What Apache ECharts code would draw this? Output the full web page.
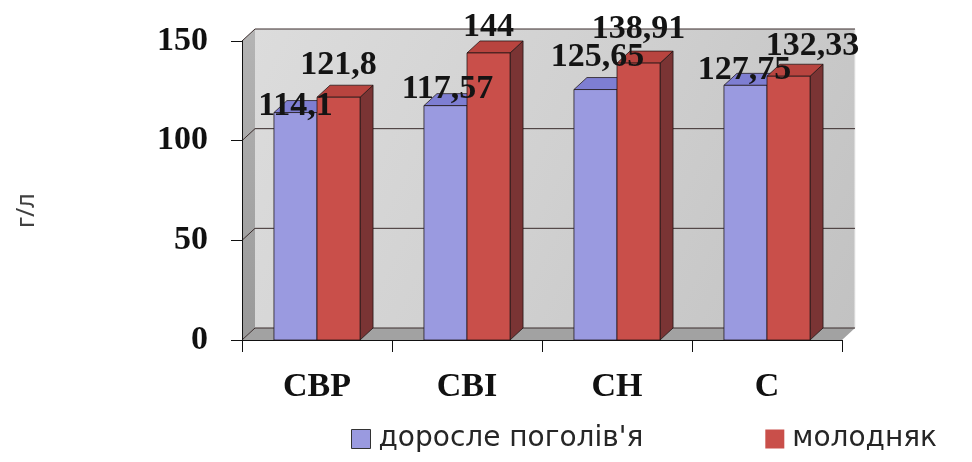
<!DOCTYPE html>
<html>
<head>
<meta charset="utf-8">
<script src="https://cdn.jsdelivr.net/npm/echarts@6/dist/echarts.min.js"></script>
<style>
html,body{margin:0;padding:0;background:#fff;}
#chart{width:972px;height:462px;}
</style>
</head>
<body>
<div id="chart"></div>
<script>
// ---- data ----
const categories = ['СВР', 'СВІ', 'СН', 'С'];
const adultValues = [114.1, 117.57, 125.65, 127.75];
const youngValues = [121.8, 144, 138.91, 132.33];
const yTicks = [0, 50, 100, 150];
const seriesNames = ["доросле поголів'я", 'молодняк'];

// ---- layout / style (not data) ----
const DEPTH = [13, -12];
const BAR_FRAC = 0.287;
const labelNudgeAdult = [[0, -6], [2, -16], [2, -32], [-1, -15]];
const labelNudgeYoung = [[0, -32], [0, -26], [0, -34], [24, -30]];
const LABEL_FONT = 'bold 34px "Liberation Serif", "Times New Roman", serif';

const chart = echarts.init(document.getElementById('chart'), null, {renderer: 'canvas'});

function fmt(v) { return String(v).replace('.', ','); }

function wallRender(params, api) {
  const catW = api.size([1, 0])[0];
  const n = categories.length;
  const x0 = api.coord([0, 0])[0] - catW / 2;
  const x1 = api.coord([n - 1, 0])[0] + catW / 2;
  const y0 = api.coord([0, yTicks[0]])[1];
  const yT = api.coord([0, yTicks[yTicks.length - 1]])[1];
  const dx = DEPTH[0], dy = DEPTH[1];
  const children = [];
  children.push({type: 'rect', shape: {x: x0 + dx, y: yT + dy, width: x1 - x0, height: y0 - yT},
    style: {fill: new echarts.graphic.LinearGradient(0, 0, 1, 1, [
      {offset: 0, color: '#dcdcdc'}, {offset: 0.5, color: '#d0d0d0'}, {offset: 1, color: '#c2c2c2'}]), stroke: null}});
  children.push({type: 'polygon', shape: {points: [[x0, yT], [x0 + dx, yT + dy], [x0 + dx, y0 + dy], [x0, y0]]},
    style: {fill: new echarts.graphic.LinearGradient(0, 0, 0, 1, [
      {offset: 0, color: '#b4b4b4'}, {offset: 1, color: '#999999'}])}});
  children.push({type: 'polygon', shape: {points: [[x0, y0], [x0 + dx, y0 + dy], [x1 + dx, y0 + dy], [x1, y0]]},
    style: {fill: '#a2a2a2'}});
  children.push({type: 'line', shape: {x1: x1 + dx, y1: yT + dy, x2: x1 + dx, y2: y0 + dy},
    style: {stroke: '#eeeeee', lineWidth: 1}});
  yTicks.forEach(function (t) {
    const y = api.coord([0, t])[1];
    children.push({type: 'polyline', shape: {points: [[x0, y], [x0 + dx, y + dy], [x1 + dx, y + dy]]},
      style: {stroke: '#3a2c2c', lineWidth: 1, fill: null}});
  });
  return {type: 'group', children: children};
}

function makeBarRender(seriesIdx, colors) {
  return function (params, api) {
    const idx = api.value(0);
    const val = api.value(1);
    const catW = api.size([1, 0])[0];
    const w = catW * BAR_FRAC;
    const base = api.coord([idx, 0]);
    const cx = base[0], y0 = base[1];
    const top = api.coord([idx, val])[1];
    const xl = seriesIdx === 0 ? cx - w : cx;
    const xr = xl + w;
    const dx = DEPTH[0], dy = DEPTH[1];
    const edge = {stroke: 'rgba(30,20,20,0.75)', lineWidth: 1};
    return {type: 'group', children: [
      {type: 'polygon', shape: {points: [[xr, top], [xr + dx, top + dy], [xr + dx, y0 + dy], [xr, y0]]},
        style: Object.assign({fill: colors.side}, edge)},
      {type: 'polygon', shape: {points: [[xl, top], [xl + dx, top + dy], [xr + dx, top + dy], [xr, top]]},
        style: Object.assign({fill: colors.top}, edge)},
      {type: 'rect', shape: {x: xl, y: top, width: w, height: y0 - top},
        style: Object.assign({fill: colors.front}, edge)}
    ]};
  };
}

function labelRender(params, api) {
  const idx = api.value(0);
  const s = api.value(1);
  const val = api.value(2);
  const catW = api.size([1, 0])[0];
  const w = catW * BAR_FRAC;
  const cx0 = api.coord([idx, 0])[0];
  const cx = s === 0 ? cx0 - w / 2 : cx0 + w / 2;
  const top = api.coord([idx, val])[1];
  const nudge = (s === 0 ? labelNudgeAdult : labelNudgeYoung)[idx];
  return {type: 'text', style: {text: fmt(val), x: cx + nudge[0], y: top + nudge[1],
    align: 'center', verticalAlign: 'middle', font: LABEL_FONT, fill: '#141414'}};
}

const labelData = [];
adultValues.forEach(function (v, i) { labelData.push([i, 0, v]); });
youngValues.forEach(function (v, i) { labelData.push([i, 1, v]); });

const option = {
  animation: false,
  backgroundColor: '#ffffff',
  grid: {left: 242, right: 130, top: 41, bottom: 122},
  xAxis: {
    type: 'category', data: categories, boundaryGap: true,
    axisLine: {show: true, lineStyle: {color: '#111', width: 1}},
    axisTick: {show: true, length: 12, lineStyle: {color: '#111'}},
    axisLabel: {margin: 30, color: '#111', fontSize: 34, fontWeight: 'bold', fontFamily: '"Liberation Serif", serif'},
    splitLine: {show: false}
  },
  yAxis: {
    type: 'value', min: yTicks[0], max: yTicks[yTicks.length - 1], interval: yTicks[1] - yTicks[0],
    name: 'г/л', nameLocation: 'middle', nameGap: 203, nameRotate: 90,
    nameTextStyle: {fontSize: 25, color: '#404040', fontFamily: '"Noto Sans", sans-serif', padding: [0, 40, 0, 0]},
    axisLine: {show: true, lineStyle: {color: '#111', width: 1}},
    axisTick: {show: true, length: 11, lineStyle: {color: '#111'}},
    axisLabel: {margin: 34, color: '#111', fontSize: 34, fontWeight: 'bold', fontFamily: '"Liberation Serif", serif'},
    splitLine: {show: false}
  },
  legend: {
    data: [
      {name: seriesNames[0], itemStyle: {borderColor: '#333', borderWidth: 1}},
      {name: seriesNames[1]}
    ],
    left: 351, top: 425, itemWidth: 19, itemHeight: 19, itemGap: 122, icon: 'rect', padding: 0,
    textStyle: {fontSize: 28, color: '#262626', fontFamily: '"DejaVu Sans", sans-serif', padding: [0, 0, 0, 3]}
  },
  series: [
    {type: 'custom', name: 'wall', renderItem: wallRender, data: [[0, 0]], z: 0, silent: true},
    {type: 'custom', name: seriesNames[0], renderItem: makeBarRender(0, {front: '#9a9ae0', top: '#7e7ed2', side: '#6a6ab8'}),
      itemStyle: {color: '#9a9ae0'}, data: adultValues.map(function (v, i) { return [i, v]; }), z: 2,
      encode: {x: 0, y: 1}},
    {type: 'custom', name: seriesNames[1], renderItem: makeBarRender(1, {front: '#c94f4a', top: '#b8443f', side: '#7a3434'}),
      itemStyle: {color: '#c94f4a'}, data: youngValues.map(function (v, i) { return [i, v]; }), z: 3,
      encode: {x: 0, y: 1}},
    {type: 'custom', name: 'labels', renderItem: labelRender, data: labelData, z: 5, silent: true,
      encode: {x: 0, y: 2}}
  ]
};
chart.setOption(option);
</script>
</body>
</html>
